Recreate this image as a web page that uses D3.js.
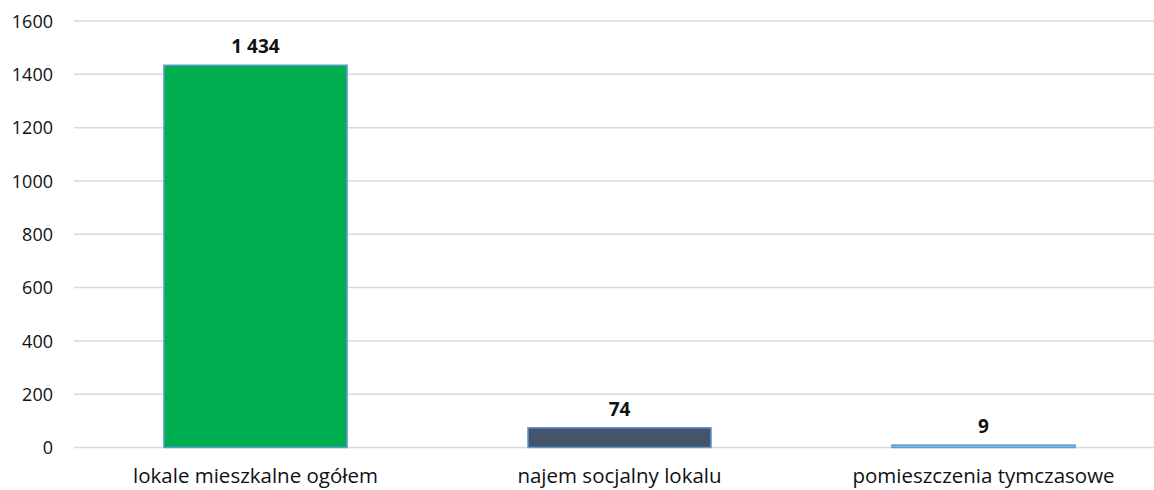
<!DOCTYPE html>
<html>
<head>
<meta charset="utf-8">
<script src="https://cdn.jsdelivr.net/npm/d3@7"></script>
<style>
  body { margin: 0; background: #fff; }
  text { font-family: "Open Sans", sans-serif; fill: #111; }
</style>
</head>
<body>
<div id="vis"></div>
<script>
(function() {
    var width = 1154,
        height = 490;

    // data
    var categories = ["lokale mieszkalne ogółem", "najem socjalny lokalu", "pomieszczenia tymczasowe"];
    var values = [1434, 74, 9];
    var valueLabels = ["1 434", "74", "9"];
    var yTicks = [0, 200, 400, 600, 800, 1000, 1200, 1400, 1600];

    var colors = {
        green: "#00B050",
        slate: "#44546A",
        light: "#9DC3E6",
        edge: "#5B9BD5",
        grid: "#D9D9D9"
    }
    var barFill = [colors.green, colors.slate, colors.light];

    var svg = d3.select("#vis")
        .append("svg")
        .attr("width", width)
        .attr("height", height)

    var x = d3.scaleBand()
        .domain(categories)
        .range([73.5, 1165.5])
        .paddingInner(0.497)
        .paddingOuter(0.2485)

    var y = d3.scaleLinear()
        .domain([0, 1600])
        .range([447.5, 21])

    // gridlines
    svg.append("g")
        .selectAll("line")
        .data(yTicks)
        .enter().append("line")
        .attr("x1", 74)
        .attr("x2", width)
        .attr("y1", function(d) { return y(d); })
        .attr("y2", function(d) { return y(d); })
        .attr("stroke", colors.grid)
        .attr("stroke-width", 1.5)

    // y axis labels
    var yAxis = d3.axisLeft(y).tickValues(yTicks).tickFormat(d3.format("d")).tickSize(0).tickPadding(0)
    var gy = svg.append("g")
        .attr("transform", "translate(53,0)")
        .call(yAxis)
    gy.select(".domain").remove()
    gy.selectAll("text")
        .style("font-size", "18px")
        .attr("fill", "#111")
        .attr("dy", "0.35em")

    // bars
    svg.selectAll(".bar")
        .data(values)
        .enter().append("rect")
        .attr("class", "bar")
        .attr("x", function(d, i) { return x(categories[i]); })
        .attr("width", x.bandwidth())
        .attr("y", function(d) { return y(d); })
        .attr("height", function(d) { return y(0) - y(d); })
        .attr("fill", function(d, i) { return barFill[i]; })
        .attr("stroke", colors.edge)
        .attr("stroke-width", 1.5)

    // value labels
    svg.selectAll(".val")
        .data(values)
        .enter().append("text")
        .attr("class", "val")
        .attr("x", function(d, i) { return x(categories[i]) + x.bandwidth() / 2; })
        .attr("y", function(d) { return y(d) - 12; })
        .attr("text-anchor", "middle")
        .style("font-size", "19px")
        .style("font-weight", "bold")
        .text(function(d, i) { return valueLabels[i]; })

    // category labels
    var xAxis = d3.axisBottom(x).tickSize(0).tickPadding(0)
    var gx = svg.append("g")
        .attr("transform", "translate(0,483)")
        .call(xAxis)
    gx.select(".domain").remove()
    gx.selectAll("text")
        .attr("dy", 0)
        .attr("fill", "#111")
        .style("font-size", "20.5px")
})();
</script>
</body>
</html>
